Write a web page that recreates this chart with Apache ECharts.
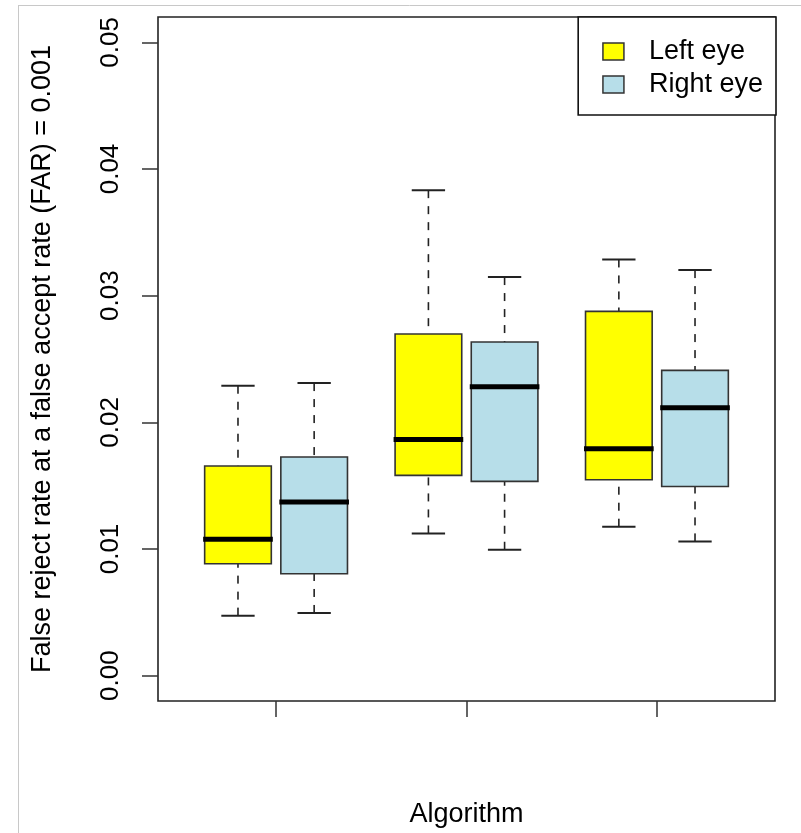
<!DOCTYPE html>
<html><head><meta charset="utf-8">
<script src="https://cdn.jsdelivr.net/npm/echarts@6/dist/echarts.min.js"></script>
<style>html,body{margin:0;padding:0;background:#fff}#c{width:801px;height:833px}</style>
</head><body><div id="c"></div>
<script>
// ---- data ----
const categories = ['Algorithm 1', 'Algorithm 2', 'Algorithm 3'];
const seriesNames = ['Left eye', 'Right eye'];
// each row: [lower whisker, Q1, median, Q3, upper whisker]
const leftEye = [
  [0.00474, 0.00884, 0.01076, 0.01655, 0.02289],
  [0.01123, 0.01581, 0.01865, 0.02697, 0.03833],
  [0.01176, 0.01547, 0.01792, 0.02876, 0.03286]
];
const rightEye = [
  [0.00495, 0.00805, 0.01371, 0.01726, 0.02310],
  [0.00994, 0.01534, 0.02281, 0.02634, 0.03147],
  [0.01060, 0.01494, 0.02115, 0.02410, 0.03202]
];
const yTicks = [0, 0.01, 0.02, 0.03, 0.04, 0.05];
const yTickLabels = ['0.00', '0.01', '0.02', '0.03', '0.04', '0.05'];
const yTitle = 'False reject rate at a false accept rate (FAR) = 0.001';
const xTitle = 'Algorithm';

// ---- styling ----
const FONT = "'Liberation Sans', Arial, Helvetica, sans-serif";
const colors = ['#ffff00', '#b7dee9'];
const GROUP_OFFSET = 0.2, BOX_WIDTH = 0.35;

function buildData(rows, offset) {
  return rows.map((r, i) => [i + 1 + offset].concat(r));
}

function renderBox(params, api) {
  const x = api.value(0);
  const lo = api.coord([x, api.value(1)]);
  const q1 = api.coord([x, api.value(2)]);
  const md = api.coord([x, api.value(3)]);
  const q3 = api.coord([x, api.value(4)]);
  const hi = api.coord([x, api.value(5)]);
  const w = api.size([BOX_WIDTH, 0])[0];
  const sw = w * 0.5;
  const cx = lo[0];
  const fill = api.visual('color');
  const dashStyle = { stroke: '#222', lineWidth: 1.6, lineDash: [8, 8] };
  const capStyle = { stroke: '#222', lineWidth: 2 };
  return {
    type: 'group',
    children: [
      { type: 'line', shape: { x1: cx, y1: hi[1], x2: cx, y2: q3[1] }, style: dashStyle },
      { type: 'line', shape: { x1: cx, y1: lo[1], x2: cx, y2: q1[1] }, style: dashStyle },
      { type: 'line', shape: { x1: cx - sw / 2, y1: hi[1], x2: cx + sw / 2, y2: hi[1] }, style: capStyle },
      { type: 'line', shape: { x1: cx - sw / 2, y1: lo[1], x2: cx + sw / 2, y2: lo[1] }, style: capStyle },
      { type: 'rect', shape: { x: cx - w / 2, y: q3[1], width: w, height: q1[1] - q3[1] },
        style: { fill: fill, stroke: '#333', lineWidth: 1.6 } },
      { type: 'line', shape: { x1: cx - w / 2 - 1.5, y1: md[1], x2: cx + w / 2 + 1.5, y2: md[1] },
        style: { stroke: '#000', lineWidth: 5 } }
    ]
  };
}

const chart = echarts.init(document.getElementById('c'), null, { renderer: 'canvas' });
chart.setOption({
  animation: false,
  backgroundColor: '#fff',
  textStyle: { fontFamily: FONT },
  grid: { left: 158, top: 17, right: 26, bottom: 131, show: true, borderColor: '#222', borderWidth: 1.6, containLabel: false },
  graphic: [
    { type: 'line', shape: { x1: 18, y1: 5.5, x2: 801, y2: 5.5 }, style: { stroke: '#c8c8c8', lineWidth: 1 }, silent: true },
    { type: 'line', shape: { x1: 18.5, y1: 5, x2: 18.5, y2: 833 }, style: { stroke: '#c8c8c8', lineWidth: 1 }, silent: true }
  ],
  legend: {
    orient: 'vertical', right: 25, top: 17,
    data: seriesNames.map((n, i) => ({ name: n, icon: 'rect', itemStyle: { color: colors[i], borderColor: '#333', borderWidth: 1.5 } })),
    itemWidth: 21, itemHeight: 17, itemGap: 6,
    padding: [21, 13, 17, 24],
    borderColor: '#111', borderWidth: 1.6, backgroundColor: '#fff', borderRadius: 0,
    textStyle: { fontSize: 27, fontFamily: FONT, color: '#000', padding: [0, 0, 0, 20], lineHeight: 26 },
    selectedMode: false
  },
  xAxis: {
    type: 'value', min: 0.38, max: 3.62,
    axisLine: { show: false, onZero: false }, splitLine: { show: false },
    axisTick: { show: true, length: 16, lineStyle: { color: '#333', width: 1.5 }, customValues: categories.map((c, i) => i + 1) },
    axisLabel: { show: false },
    name: xTitle, nameLocation: 'middle', nameGap: 100,
    nameTextStyle: { fontSize: 27, color: '#000', fontFamily: FONT }
  },
  yAxis: {
    type: 'value', min: -0.002, max: 0.052,
    axisLine: { show: false, onZero: false }, splitLine: { show: false },
    axisTick: { show: true, length: 16, lineStyle: { color: '#333', width: 1.5 }, customValues: yTicks },
    axisLabel: {
      customValues: yTicks, rotate: 90, margin: 34, fontSize: 26, color: '#000', fontFamily: FONT,
      formatter: v => { const k = yTicks.findIndex(t => Math.abs(t - v) < 1e-9); return k >= 0 ? yTickLabels[k] : ''; }
    },
    name: yTitle, nameLocation: 'middle', nameRotate: 90, nameGap: 102,
    nameTextStyle: { fontSize: 27, color: '#000', fontFamily: FONT }
  },
  series: [
    { name: seriesNames[0], type: 'custom', renderItem: renderBox, itemStyle: { color: colors[0] },
      encode: { x: 0, y: [1, 2, 3, 4, 5] }, data: buildData(leftEye, -GROUP_OFFSET) },
    { name: seriesNames[1], type: 'custom', renderItem: renderBox, itemStyle: { color: colors[1] },
      encode: { x: 0, y: [1, 2, 3, 4, 5] }, data: buildData(rightEye, GROUP_OFFSET) }
  ]
});
</script>
</body></html>
